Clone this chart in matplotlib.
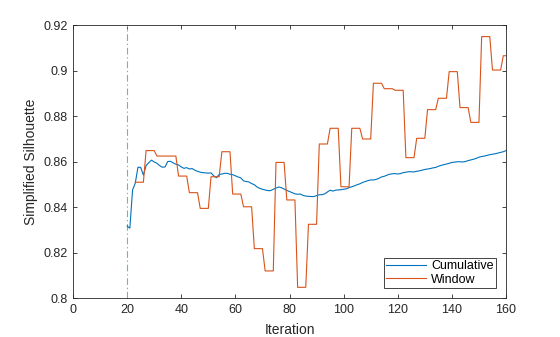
import matplotlib.pyplot as plt
import matplotlib.ticker as mticker
import numpy as np

plt.rcParams['font.family'] = ['Liberation Sans', 'DejaVu Sans']

# cumulative silhouette, one value per iteration from 20 to 160
cum_start = 20
cumulative = [
    0.8316, 0.8307, 0.8475, 0.8505, 0.8575, 0.8574, 0.8540, 0.8582, 0.8595, 0.8606,
    0.8598, 0.8592, 0.8582, 0.8575, 0.8576, 0.8600, 0.8601, 0.8594, 0.8588, 0.8585,
    0.8576, 0.8570, 0.8573, 0.8567, 0.8569, 0.8562, 0.8557, 0.8553, 0.8551, 0.8550,
    0.8549, 0.8550, 0.8537, 0.8529, 0.8543, 0.8545, 0.8548, 0.8548, 0.8544, 0.8542,
    0.8537, 0.8532, 0.8528, 0.8515, 0.8512, 0.8510, 0.8503, 0.8498, 0.8488, 0.8482,
    0.8478, 0.8475, 0.8472, 0.8472, 0.8478, 0.8483, 0.8488, 0.8485, 0.8479, 0.8473,
    0.8468, 0.8463, 0.8458, 0.8456, 0.8457, 0.8451, 0.8448, 0.8447, 0.8446, 0.8446,
    0.8450, 0.8454, 0.8454, 0.8458, 0.8466, 0.8474, 0.8470, 0.8474, 0.8475, 0.8476,
    0.8478, 0.8480, 0.8485, 0.8489, 0.8493, 0.8498, 0.8502, 0.8508, 0.8512, 0.8516,
    0.8519, 0.8519, 0.8521, 0.8526, 0.8532, 0.8535, 0.8540, 0.8544, 0.8546, 0.8547,
    0.8545, 0.8547, 0.8551, 0.8553, 0.8555, 0.8555, 0.8554, 0.8557, 0.8559, 0.8562,
    0.8565, 0.8567, 0.8569, 0.8572, 0.8574, 0.8579, 0.8583, 0.8586, 0.8589, 0.8592,
    0.8596, 0.8597, 0.8599, 0.8599, 0.8598, 0.8600, 0.8604, 0.8607, 0.8610, 0.8614,
    0.8619, 0.8622, 0.8624, 0.8627, 0.8630, 0.8632, 0.8634, 0.8637, 0.8640, 0.8643,
    0.8648,
]

# windowed silhouette, recomputed every 4 iterations starting at 23
win_start = 23
win_step = 4
window_blocks = [
    0.8509, 0.8648, 0.8624, 0.8624, 0.8536, 0.8463, 0.8394, 0.8533, 0.8643, 0.8457,
    0.8401, 0.8217, 0.8119, 0.8596, 0.8431, 0.8047, 0.8324, 0.8677, 0.8746, 0.8489,
    0.8746, 0.8699, 0.8944, 0.8920, 0.8913, 0.8617, 0.8702, 0.8828, 0.8878, 0.8995,
    0.8837, 0.8772, 0.9149, 0.9002, 0.9065,
]
last_iter = 160
warmup = 20

x_cum = np.arange(cum_start, cum_start + len(cumulative))
x_win = np.arange(win_start, last_iter + 1)
window = np.repeat(window_blocks, win_step)[:len(x_win)]

fig = plt.figure(figsize=(5.6, 3.37), dpi=100)
ax = fig.add_axes([0.1304, 0.1157, 0.7732, 0.8101])

ax.axvline(warmup, color='#55d455', lw=0.8, linestyle=(0, (6, 2.5, 1.2, 2.5)))
ax.plot(x_cum, cumulative, color='#0072BD', lw=0.8, label='Cumulative')
ax.plot(x_win, window, color='#D95319', lw=0.8, label='Window')

ax.set_xlim(0, 160)
ax.set_ylim(0.8, 0.92)
ax.set_xticks(np.arange(0, 161, 20))
ax.set_yticks(np.arange(0.8, 0.9201, 0.02))
ax.yaxis.set_major_formatter(mticker.FuncFormatter(lambda v, p: '%g' % round(v, 2)))

dark = '#262626'
for s in ax.spines.values():
    s.set_color(dark)
    s.set_linewidth(0.6)
ax.tick_params(direction='in', length=3, width=0.6, color=dark, labelcolor=dark,
               labelsize=9, top=True, right=True, pad=4)

ax.set_xlabel('Iteration', fontsize=10, color=dark, labelpad=5.5)
ax.set_ylabel('Simplified Silhouette', fontsize=10, color=dark, labelpad=4)

leg = ax.legend(loc='lower right', fontsize=9, handlelength=3.2, fancybox=False,
                framealpha=1, edgecolor=dark, borderaxespad=0.8, borderpad=0.2,
                labelspacing=0.1, handletextpad=0.4)
leg.get_frame().set_linewidth(0.6)

fig.savefig('out.png', dpi=100)
